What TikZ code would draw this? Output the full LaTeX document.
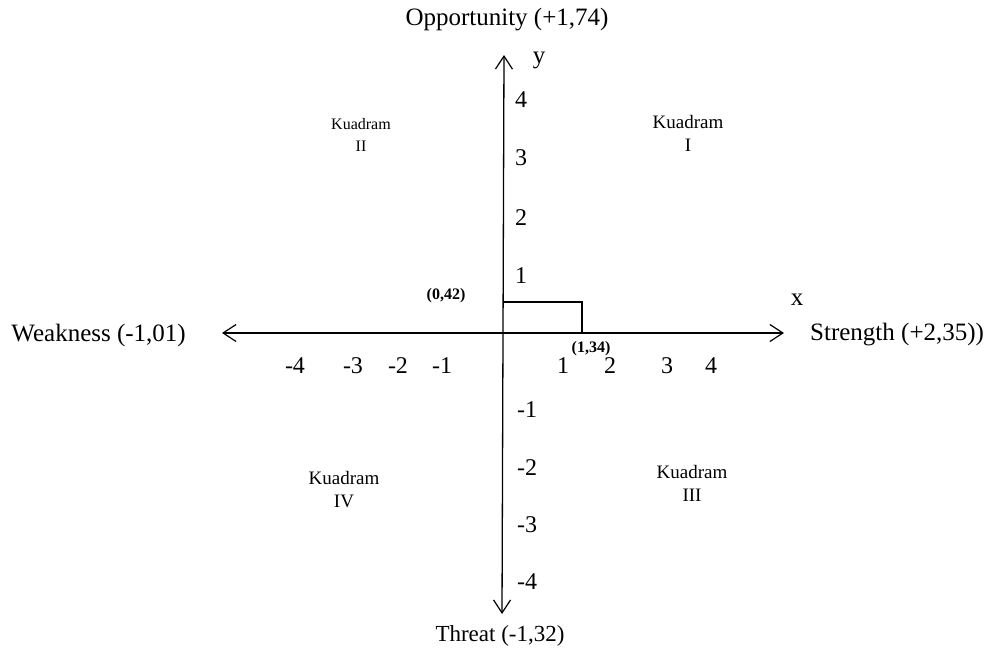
\documentclass[tikz,border=0pt]{standalone}
\usepackage{fontspec}
\setmainfont{Liberation Serif}
\usetikzlibrary{arrows.meta}

\tikzset{
  axis/.style={line width=1.3pt,{Straight Barb[length=13pt,width=17pt,line width=1.2pt]}-{Straight Barb[length=13pt,width=17pt,line width=1.2pt]}},
  biglbl/.style={font=\fontsize{25}{28}\selectfont,inner sep=0pt},
  numlbl/.style={font=\fontsize{24}{26}\selectfont,inner sep=0pt},
  kuad/.style={font=\fontsize{19}{23}\selectfont,align=center,inner sep=0pt},
  pt/.style={font=\bfseries\fontsize{16}{18}\selectfont,inner sep=0pt}
}

\begin{document}
\begin{tikzpicture}[x=1pt,y=-1pt]
\useasboundingbox (0,0) rectangle (986,656);

% axes
\coordinate (xl) at (222,333);
\coordinate (xr) at (784,333);
\coordinate (yt) at (504,55);
\coordinate (yb) at (502,614);
\draw[axis] (xl) -- (xr);
\draw[axis] (yb) -- (yt);

% point box
\coordinate (q) at (503,302);
\coordinate (p) at (582,333);
\draw[line width=1.5pt] (q) -| (p);

% axis labels
\node[biglbl] (opp) at (507,20) {Opportunity (+1,74)};
\node[biglbl,font=\fontsize{23}{26}\selectfont] (thr) at (500,636) {Threat (-1,32)};
\node[biglbl,anchor=east] (weak) at (186,335) {Weakness (-1,01)};
\node[biglbl,anchor=west] (str) at (810,335) {Strength (+2,35))};
\node[biglbl] (lx) at (797,300) {x};
\node[biglbl] (ly) at (539,60) {y};

% ticks
\node[numlbl] (n1) at (563,366) {1};
\node[numlbl] (n2) at (610,366) {2};
\node[numlbl] (n3) at (667,366) {3};
\node[numlbl] (n4) at (711,366) {4};
\node[numlbl] (m1) at (442,366) {-1};
\node[numlbl] (m2) at (398,366) {-2};
\node[numlbl] (m3) at (353,366) {-3};
\node[numlbl] (m4) at (295,366) {-4};
\node[numlbl] (y1) at (521,276) {1};
\node[numlbl] (y2) at (521,218) {2};
\node[numlbl] (y3) at (521,158) {3};
\node[numlbl] (y4) at (521,100) {4};
\node[numlbl] (z1) at (527,410) {-1};
\node[numlbl] (z2) at (527,468) {-2};
\node[numlbl] (z3) at (527,525) {-3};
\node[numlbl] (z4) at (527,582) {-4};

% points
\node[pt] (px) at (446,296) {(0,42)};
\node[pt] (py) at (591,349) {(1,34)};

% quadrants
\node[kuad,font=\fontsize{16}{22}\selectfont] (k2) at (361,135) {Kuadram\\II};
\node[kuad] (k1) at (688,133) {Kuadram\\I};
\node[kuad] (k4) at (344,490) {Kuadram\\IV};
\node[kuad] (k3) at (692,483) {Kuadram\\III};
\end{tikzpicture}
\end{document}
